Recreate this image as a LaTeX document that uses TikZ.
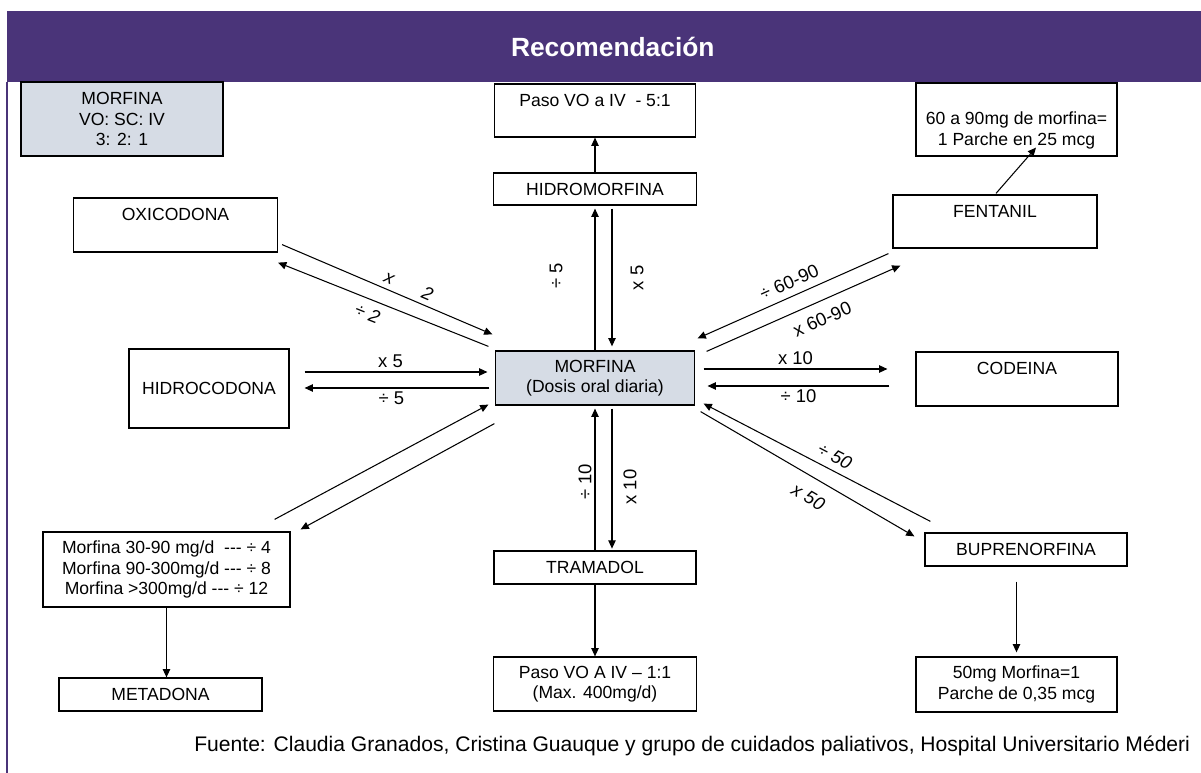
\documentclass[tikz,border=0pt]{standalone}
\usepackage{fontspec}
\setmainfont{Liberation Sans}
\usetikzlibrary{arrows.meta}
\definecolor{moradocab}{HTML}{4A3479}
\definecolor{grisazul}{HTML}{D6DCE5}

\begin{document}
\begin{tikzpicture}[x=0.02cm,y=-0.02cm,
  caja/.style={draw, line width=0.7pt, inner sep=0pt, align=center,
    font=\fontsize{10}{11.6}\selectfont},
  flecha/.style={line width=0.6pt, -{Triangle[length=4.7pt,width=4.2pt]}},
  etiq/.style={font=\fontsize{10.5}{12}\selectfont, inner sep=2pt}]
 \useasboundingbox (0,0) rectangle (1201,773);

 \node[fill=moradocab, text=white, font=\bfseries\fontsize{15}{18}\selectfont,
   minimum width=23.88cm, minimum height=1.42cm, inner sep=0pt] (cabecera) at (604,46.5) {\hspace*{10pt}Recomendación};
 \draw[moradocab, line width=1.3pt] (cabecera.south west) -- ++(0,691);

 \node[caja, fill=grisazul, minimum width=4.04cm, minimum height=1.48cm] (leyenda) at (122,119) {MORFINA\\VO: SC: IV\\3: 2: 1};
 \node[caja, minimum width=4.02cm, minimum height=1.06cm] (pasoIV) at (595,110.5) {Paso VO a IV\ \ - 5:1\\\mbox{}};
 \node[caja, minimum width=4.06cm, minimum height=0.64cm] (hmf) at (595,189) {HIDROMORFINA};
 \node[caja, minimum width=4.02cm, minimum height=1.46cm] (ses) at (1016.5,119.5) {\strut\\60 a 90mg de morfina=\\1 Parche en 25 mcg};
 \node[caja, minimum width=4.08cm, minimum height=1.06cm] (fen) at (995,221.5) {FENTANIL\\\mbox{}};
 \node[caja, minimum width=4.08cm, minimum height=1.08cm] (oxi) at (175.5,225) {OXICODONA\\\mbox{}};
 \node[caja, minimum width=3.2cm, minimum height=1.58cm] (hcd) at (209,388.5) {HIDROCODONA};
 \node[caja, fill=grisazul, minimum width=3.98cm, minimum height=1.08cm] (mor) at (595,378) {MORFINA\\(Dosis oral diaria)};
 \node[caja, minimum width=4.04cm, minimum height=1.08cm] (cod) at (1017,379) {CODEINA\\\mbox{}};
 \node[caja, minimum width=4.94cm, minimum height=1.5cm] (metinfo) at (166.5,569.5) {Morfina 30-90 mg/d\ \ -{}-{}- ÷ 4\\Morfina 90-300mg/d -{}-{}- ÷ 8\\Morfina >300mg/d -{}-{}- ÷ 12};
 \node[caja, minimum width=4.06cm, minimum height=0.66cm] (metadona) at (160.5,694.5) {METADONA};
 \node[caja, minimum width=4.04cm, minimum height=0.66cm] (tra) at (595,567.5) {TRAMADOL};
 \node[caja, minimum width=4.06cm, minimum height=1.08cm] (paso2) at (595,684) {Paso VO A IV – 1:1\\(Max. 400mg/d)};
 \node[caja, minimum width=4.04cm, minimum height=0.66cm] (bup) at (1026,549.5) {BUPRENORFINA};
 \node[caja, minimum width=4.02cm, minimum height=1.1cm] (cin) at (1016.5,684.5) {50mg Morfina=1\\Parche de 0,35 mcg};

 \draw[flecha] ([shift={(4,-8)}]oxi.south east) -- node[etiq, sloped, above, pos=.58, inner sep=3pt] {\itshape x\hspace{18pt}2} ([shift={(-2.5,-16)}]mor.north west);
 \draw[flecha] ([shift={(-6.5,-4)}]mor.north west) -- node[etiq, sloped, below, pos=.55, inner sep=4pt] {\itshape ÷ 2} ([shift={(0,10)}]oxi.south east);

 \draw[flecha] ([shift={(15,-16.5)}]hcd.east) -- node[etiq, above, pos=.47] {x 5} ([shift={(-7.5,-6)}]mor.west);
 \draw[flecha] ([shift={(-5.5,10)}]mor.west) -- node[etiq, below, pos=.53] {÷ 5} ([shift={(15,-0.5)}]hcd.east);

 \draw[flecha] ([shift={(-16,-12)}]metinfo.north east) -- ([shift={(-6.5,-1)}]mor.south west);
 \draw[flecha] ([shift={(-0.5,18)}]mor.south west) -- ([shift={(10,-2)}]metinfo.north east);
 \draw[flecha] (metinfo.south) -- (metinfo.south |- metadona.north);

 \draw[flecha, shorten >=1.7pt] (mor.north) -- (hmf.south);
 \draw[flecha, shorten <=1.7pt, shorten >=2.3pt] ([shift={(17,0)}]hmf.south) -- ([shift={(17,0)}]mor.north);
 \node[etiq, rotate=90] (divcinco) at (556,276) {÷ 5};
 \node[etiq, rotate=90] (porcinco) at (637,278) {x 5};
 \draw[flecha] (hmf.north) -- (pasoIV.south);

 \draw[flecha, shorten >=1.7pt] (tra.north) -- (mor.south);
 \draw[flecha, shorten <=1.7pt, shorten >=1pt] ([shift={(17,0)}]mor.south) -- ([shift={(17,0)}]tra.north);
 \node[etiq, rotate=90] (divdiez) at (585,482) {÷ 10};
 \node[etiq, rotate=90] (pordiez) at (630,487) {x 10};
 \draw[flecha] (tra.south) -- (paso2.north);

 \draw[flecha] ([shift={(-4,5)}]fen.south west) -- node[etiq, sloped, above, pos=.49, inner sep=4pt] {÷ 60-90} ([shift={(2.5,-12)}]mor.north east);
 \draw[flecha] ([shift={(11.5,1)}]mor.north east) -- node[etiq, sloped, below, pos=.56, inner sep=6pt] {x 60-90} ([shift={(8,17)}]fen.south west);
 \draw[flecha] ([shift={(1,-1)}]fen.north) -- ([shift={(19.5,-9)}]ses.south);

 \draw[flecha] ([shift={(8.5,-9)}]mor.east) -- node[etiq, above] {x 10} ([shift={(-28,-10)}]cod.west);
 \draw[flecha] ([shift={(-26,7)}]cod.west) -- node[etiq, below] {÷ 10} ([shift={(12.5,8)}]mor.east);

 \draw[flecha] ([shift={(6,-11)}]bup.north west) -- node[etiq, sloped, above, pos=.45, inner sep=4pt] {\itshape ÷ 50} ([shift={(8.5,-2)}]mor.south east);
 \draw[flecha] ([shift={(5.5,6)}]mor.south east) -- node[etiq, sloped, below, pos=.55, inner sep=7pt] {\itshape x 50} ([shift={(-10,4)}]bup.north west);
 \draw[flecha, shorten <=8.5pt, shorten >=2.3pt] (cin.north |- bup.south) -- (cin.north);

 \node[anchor=west, inner sep=0pt, font=\fontsize{12}{14}\selectfont] (fuente) at (194,746) {Fuente: Claudia Granados, Cristina Guauque y grupo de cuidados paliativos, Hospital Universitario Méderi};
\end{tikzpicture}
\end{document}
